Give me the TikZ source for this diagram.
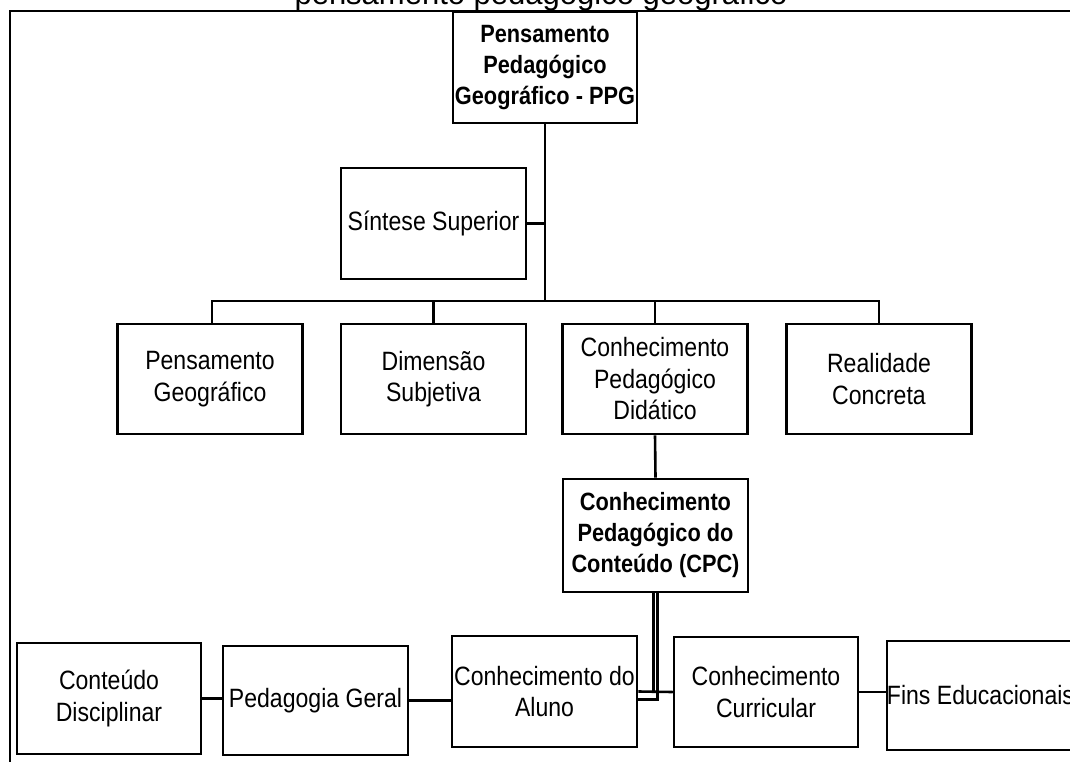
\documentclass[tikz,border=0pt]{standalone}
\usepackage{fontspec}
\setmainfont{Liberation Sans}
\newfontfamily\estreita{Liberation Sans}[FakeStretch=0.87]
\usetikzlibrary{positioning,calc}
\tikzset{
  caixa/.style={draw, line width=2.9pt, inner sep=0pt, align=center,
    font=\estreita\fontsize{26.5}{31.5}\selectfont},
  caixab/.style={caixa, font=\estreita\fontsize{25}{31}\selectfont\bfseries},
  liga/.style={line width=2.6pt}}

\begin{document}
\begin{tikzpicture}[x=1pt, y=-1pt]
\useasboundingbox (0,0) rectangle (1070,762);
\clip (0,0) rectangle (1070,762);
\node[anchor=base, font=\fontsize{31}{31}\selectfont] (titulo) at (541,5) {pensamento pedagógico geográfico};
\draw[line width=2.2pt] (10,762) -- (10,11) -- (1075,11);
% topo
\node[caixab, minimum width=184pt, minimum height=111pt] (ppg) at (545,67.5) {Pensamento\\Pedagógico\\Geográfico - PPG};
\node[caixa, minimum width=185pt, minimum height=111pt] (sintese) at (433.5,223.5) {Síntese Superior};
% segunda linha
\foreach \n/\x/\t in {pgeo/210/{Pensamento\\Geográfico}, dimensao/433.5/{Dimensão\\Subjetiva},
    cpd/655/{Conhecimento\\Pedagógico\\Didático}, realidade/879/{Realidade\\Concreta}}
  \node[caixa, minimum width=185pt, minimum height=110pt] (\n) at (\x,379) {\t};
\node[caixab, minimum width=185pt, minimum height=113pt] (cpc) at (655.5,535.5) {Conhecimento\\Pedagógico do\\Conteúdo (CPC)};
% linha de baixo
\node[caixa, minimum width=184pt, minimum height=111pt] (conteudo) at (109,698.5) {Conteúdo\\Disciplinar};
\node[caixa, minimum width=185pt, minimum height=109pt] (pedagogia) at (315.5,700.5) {Pedagogia Geral};
\node[caixa, minimum width=185pt, minimum height=111pt] (aluno) at (544.5,691.5) {Conhecimento do\\Aluno};
\node[caixa, minimum width=184pt, minimum height=110pt] (curricular) at (766,692) {Conhecimento\\Curricular};
\node[caixa, minimum width=185pt, minimum height=109pt] (fins) at (980.5,695.5) {Fins Educacionais};
% ligacoes
\coordinate (barra) at (545,301);
\draw[liga] (ppg.south) -- (barra);
\draw[liga] (sintese.east) -- (sintese.east -| ppg.south);
\draw[liga] ([xshift=2pt]pgeo.north) |- (barra) -| (realidade.north);
\foreach \n in {dimensao, cpd}
  \draw[liga] (\n.north) -- (\n.north |- barra);
\draw[liga] (cpd.south) -- (cpc.north);
\draw[liga] ([xshift=-2pt]cpc.south) |- (curricular.west);
\draw[liga] ([xshift=2pt]cpc.south) |- ([yshift=-8pt]aluno.east);
\draw[liga] (aluno.east) -- (curricular.west);
\draw[liga] (conteudo.east) -- (conteudo.east -| pedagogia.west);
\draw[line width=3.6pt] (pedagogia.east) -- (pedagogia.east -| aluno.west);
\draw[liga] (curricular.east) -- (curricular.east -| fins.west);
\end{tikzpicture}
\end{document}
